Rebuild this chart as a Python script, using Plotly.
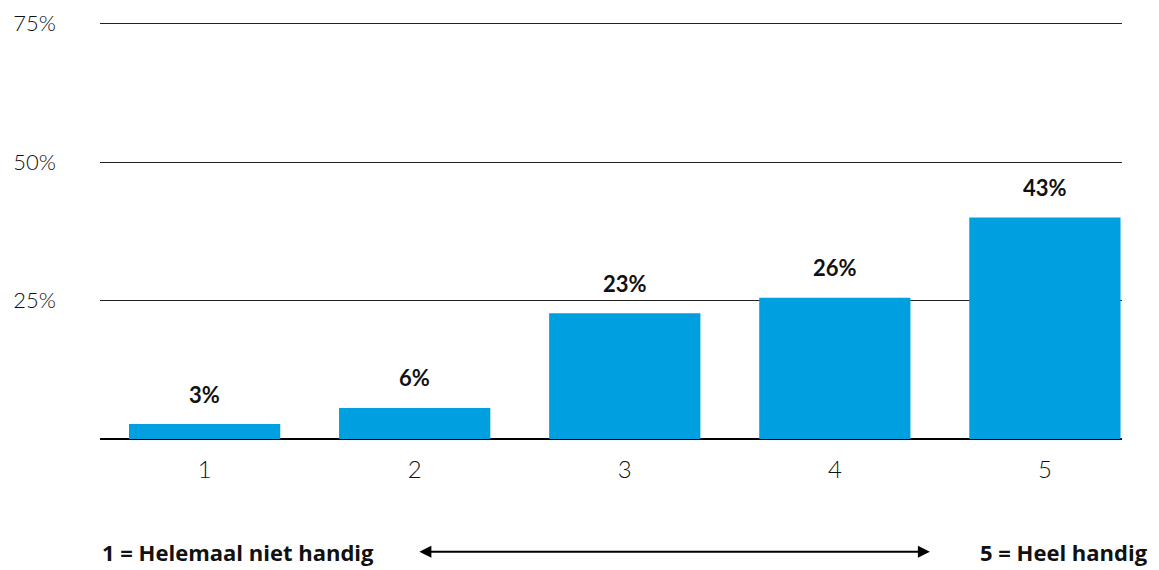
import plotly.graph_objects as go

categories = ["1", "2", "3", "4", "5"]
bar_heights = [2.7, 5.6, 22.7, 25.5, 40.0]
value_labels = ["3%", "6%", "23%", "26%", "43%"]
y_ticks = [25, 50, 75]
y_tick_labels = ["25%", "50%", "75%"]
left_caption = "1 = Helemaal niet handig"
right_caption = "5 = Heel handig"

BLUE = "#009fe0"
TEXT = "#111111"
LIGHT_FONT = "Lato Light, Lato, Noto Sans, sans-serif"
BOLD_FONT = "Lato, Noto Sans, sans-serif"
CAPTION_FONT = "Open Sans, Noto Sans, sans-serif"

positions = list(range(len(categories)))

fig = go.Figure()
fig.add_trace(go.Bar(
    x=positions, y=bar_heights, marker=dict(color=BLUE, line=dict(width=0)),
    width=0.72, hoverinfo="skip", showlegend=False,
))

for p, h, t in zip(positions, bar_heights, value_labels):
    fig.add_annotation(x=p, y=h, xref="x", yref="y", text="<b>" + t + "</b>",
                       showarrow=False, yshift=30,
                       font=dict(family=BOLD_FONT, size=22, color=TEXT))

CAP_Y = -0.268
fig.add_annotation(x=0, y=CAP_Y, xref="paper", yref="paper", xanchor="left", yanchor="middle",
                   text="<b>" + left_caption + "</b>", showarrow=False,
                   font=dict(family=CAPTION_FONT, size=22, color=TEXT))
fig.add_annotation(x=1.0274, y=CAP_Y, xref="paper", yref="paper", xanchor="right", yanchor="middle",
                   text="<b>" + right_caption + "</b>", showarrow=False,
                   font=dict(family=CAPTION_FONT, size=22, color=TEXT))
# double-headed arrow between captions
fig.add_annotation(x=0.812, y=CAP_Y, xref="paper", yref="paper",
                   ax=-512, ay=0, axref="pixel", ayref="pixel",
                   text="", showarrow=True, arrowhead=2, startarrowhead=2,
                   arrowside="end+start", arrowsize=1.2, startarrowsize=1.2,
                   arrowwidth=2, arrowcolor="#000000")

fig.update_layout(
    width=1151, height=562,
    margin=dict(l=92, r=37, t=9.5, b=131, autoexpand=False),
    plot_bgcolor="white", paper_bgcolor="white",
    xaxis=dict(range=[-0.498, 4.367], tickvals=positions, ticktext=categories,
               showgrid=False, zeroline=False, automargin=False,
               showline=False, ticks="", tickfont=dict(family=LIGHT_FONT, size=24, color=TEXT),
               ticklabelstandoff=14),
    yaxis=dict(range=[0, 76], tickvals=y_ticks, ticktext=y_tick_labels,
               showgrid=True, gridcolor="#222222", gridwidth=1, automargin=False,
               zeroline=True, zerolinecolor="#000000", zerolinewidth=1.5,
               showline=False, ticks="",
               tickfont=dict(family=LIGHT_FONT, size=22, color=TEXT),
               ticklabelstandoff=43),
)

fig.write_html("out.html")
